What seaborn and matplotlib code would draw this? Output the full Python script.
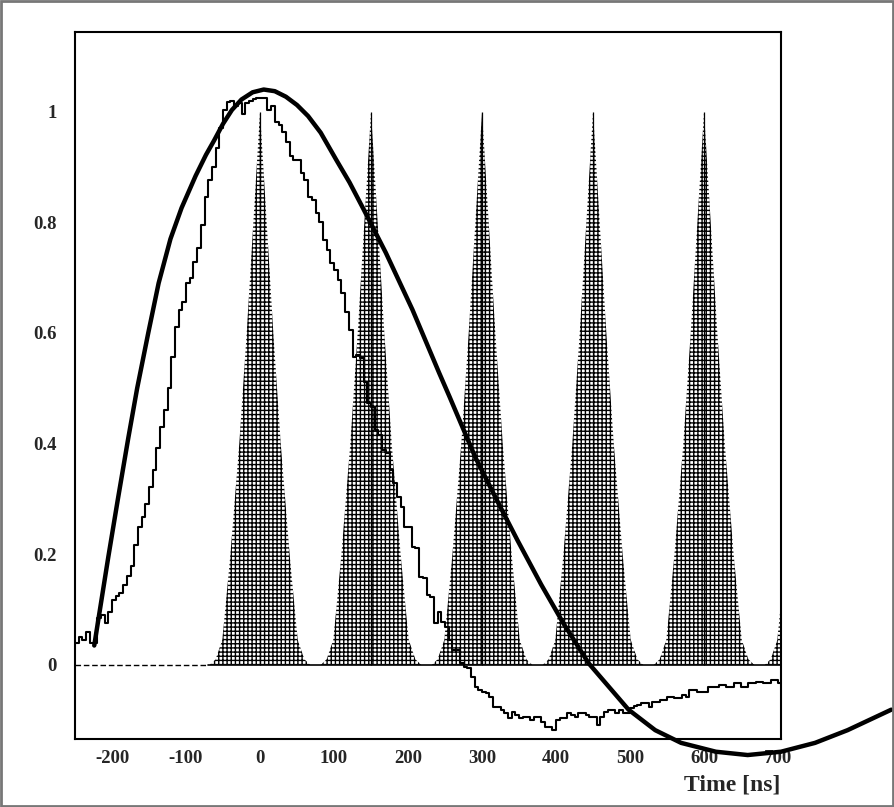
import numpy as np
import pandas as pd
import matplotlib
matplotlib.use("Agg")
import matplotlib.pyplot as plt
import seaborn as sns
from matplotlib.ticker import MultipleLocator, FormatStrFormatter
from matplotlib.patches import Rectangle

# measured pulse histogram, 5 ns bins starting at -250 ns
bin_start = -250
bin_width = 5
hist_values = [
    0.040, 0.050, 0.045, 0.060, 0.040, 0.040, 0.085, 0.090, 0.075, 0.095,   # -250
    0.118, 0.124, 0.130, 0.145, 0.160, 0.178, 0.217, 0.250, 0.268, 0.290,   # -200
    0.322, 0.353, 0.392, 0.430, 0.461, 0.500, 0.557, 0.610, 0.642, 0.656,   # -150
    0.690, 0.700, 0.729, 0.754, 0.796, 0.846, 0.877, 0.900, 0.935, 0.971,   # -100
    1.003, 1.018, 1.020, 1.010, 1.015, 0.995, 1.016, 1.020, 1.022, 1.025,   # -50
    1.025, 1.025, 1.003, 1.010, 0.982, 0.975, 0.964, 0.946, 0.919, 0.913,   # 0
    0.913, 0.890, 0.877, 0.846, 0.840, 0.817, 0.800, 0.768, 0.750, 0.727,   # 50
    0.714, 0.696, 0.672, 0.638, 0.606, 0.557, 0.560, 0.555, 0.512, 0.474,   # 100
    0.467, 0.425, 0.416, 0.389, 0.383, 0.353, 0.329, 0.304, 0.286, 0.250,   # 150
    0.250, 0.213, 0.211, 0.159, 0.157, 0.127, 0.123, 0.076, 0.096, 0.078,   # 200
    0.069, 0.045, 0.027, 0.027, 0.004, -0.004, -0.005, -0.022, -0.040, -0.045,  # 250
    -0.049, -0.051, -0.058, -0.076, -0.076, -0.081, -0.087, -0.096, -0.085, -0.090,  # 300
    -0.096, -0.094, -0.094, -0.099, -0.094, -0.094, -0.103, -0.112, -0.112, -0.118,  # 350
    -0.100, -0.096, -0.096, -0.087, -0.090, -0.094, -0.087, -0.087, -0.090, -0.094,  # 400
    -0.094, -0.108, -0.094, -0.085, -0.081, -0.081, -0.087, -0.081, -0.087, -0.087,  # 450
    -0.078, -0.075, -0.072, -0.069, -0.069, -0.076, -0.067, -0.067, -0.063, -0.063,  # 500
    -0.058, -0.058, -0.060, -0.060, -0.054, -0.058, -0.045, -0.045, -0.049, -0.049,  # 550
    -0.049, -0.040, -0.040, -0.040, -0.036, -0.036, -0.040, -0.040, -0.033, -0.033,  # 600
    -0.040, -0.040, -0.033, -0.033, -0.031, -0.031, -0.033, -0.033, -0.027, -0.027,  # 650
    -0.033,                                                                   # 700
]

# shaper response (thick curve)
curve_t = [-224, -205, -192, -178, -166, -151, -137, -121, -106, -87, -73, -62,
           -50, -38, -25, -10, 5, 20, 35, 50, 65, 82, 103, 121, 139, 170, 206,
           242, 256, 291, 323, 348, 380, 410, 444, 498, 534, 569, 616, 659, 704,
           750, 794, 853]
curve_v = [0.035, 0.195, 0.300, 0.410, 0.500, 0.600, 0.690, 0.770, 0.826, 0.884,
           0.922, 0.948, 0.978, 1.003, 1.022, 1.035, 1.040, 1.037, 1.027, 1.012,
           0.992, 0.962, 0.913, 0.872, 0.826, 0.745, 0.642, 0.528, 0.485, 0.375,
           0.290, 0.225, 0.145, 0.075, 0.003, -0.081, -0.118, -0.141, -0.157,
           -0.163, -0.157, -0.141, -0.118, -0.081]

# bunch crossings every 150 ns and the shape of one bunch (half profile)
bunch_centres = [0, 150, 300, 450, 600, 750]
bunch_offset = [0, 9, 18, 28, 40, 47, 51, 60, 68]
bunch_height = [1.0, 0.8, 0.6, 0.4, 0.2, 0.1, 0.045, 0.01, 0.0]

xticks_major = 100
yticks_major = 0.2

sns.set_style("white")
plt.rcParams["font.family"] = ["Liberation Serif", "DejaVu Serif"]
plt.rcParams["font.weight"] = "bold"
plt.rcParams["axes.unicode_minus"] = False
plt.rcParams["hatch.linewidth"] = 1.0

fig = plt.figure(figsize=(8.94, 8.07), dpi=100)
ax = fig.add_axes([75 / 894, 1 - 739 / 807, (781 - 75) / 894, (739 - 32) / 807])

# filled bunches
off = np.array(bunch_offset)
hgt = np.array(bunch_height)
for c in bunch_centres:
    xs = np.concatenate([c - off[::-1], c + off[1:]])
    ys = np.concatenate([hgt[::-1], hgt[1:]])
    ax.fill(xs, ys, facecolor="white", edgecolor="black", hatch="++++",
            linewidth=0, zorder=1)
    ax.vlines(c, 0, 1, color="black", linewidth=0.9, zorder=2)

# zero line: dashed before the bunches, solid under them
ax.plot([-250, -70], [0, 0], color="black", linestyle=(0, (4, 2)), linewidth=1.0, zorder=2)
ax.plot([-70, 710], [0, 0], color="black", linewidth=1.2, zorder=2)

# histogram as steps
edges = bin_start + bin_width * np.arange(len(hist_values) + 1)
hist_df = pd.DataFrame({"t": edges, "v": hist_values + [hist_values[-1]]})
sns.lineplot(data=hist_df, x="t", y="v", drawstyle="steps-post", color="black",
             linewidth=1.5, ax=ax, zorder=3)

# shaper curve, runs past the frame
curve_df = pd.DataFrame({"t": curve_t, "v": curve_v})
sns.lineplot(data=curve_df, x="t", y="v", sort=False, color="black",
             linewidth=3.2, ax=ax, zorder=4, clip_on=False)

ax.set_xlim(-250, 704)
ax.set_ylim(-0.134, 1.144)
ax.xaxis.set_major_locator(MultipleLocator(xticks_major))
ax.xaxis.set_minor_locator(MultipleLocator(20))
ax.yaxis.set_major_locator(MultipleLocator(yticks_major))
ax.yaxis.set_minor_locator(MultipleLocator(0.05))
ax.yaxis.set_major_formatter(FormatStrFormatter("%g"))
ax.tick_params(axis="both", which="both", direction="in", top=False, right=False,
               width=1.5, labelsize=13.5)
ax.tick_params(axis="both", which="major", length=11)
ax.tick_params(axis="both", which="minor", length=5.5)
ax.tick_params(axis="y", which="major", pad=13)
ax.tick_params(axis="x", which="major", pad=8)
for lab in ax.get_xticklabels() + ax.get_yticklabels():
    lab.set_fontweight("bold")
for s in ax.spines.values():
    s.set_linewidth(1.5)
    s.set_color("black")
ax.set_xlabel("")
ax.set_ylabel("")

fig.text(780 / 894, 1 - 785 / 807, "Time [ns]", ha="right", va="center",
         fontsize=17, fontweight="bold")

# grey frame round the whole picture
fig.patches.append(Rectangle((0.001, 0.001), 0.998, 0.998, transform=fig.transFigure,
                             fill=False, edgecolor="#777777", linewidth=2))

fig.savefig("out.png", dpi=100)
